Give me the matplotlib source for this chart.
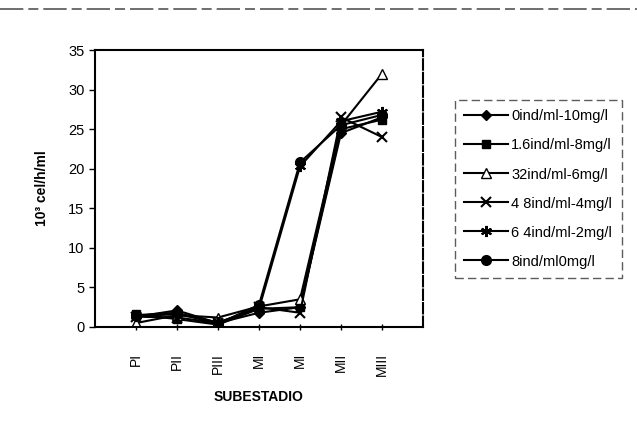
import matplotlib
matplotlib.use("Agg")
import matplotlib.pyplot as plt
from matplotlib.lines import Line2D

plt.rcParams["font.family"] = ["Liberation Sans", "DejaVu Sans"]

# stages on the x axis (MI appears twice in the original series)
stages = ["PI", "PII", "PIII", "MI", "MI", "MII", "MIII"]

s_0ind = [1.3, 2.1, 0.5, 1.8, 2.5, 24.5, 26.5]
s_16ind = [1.6, 1.0, 0.3, 2.3, 2.5, 25.0, 26.2]
s_32ind = [0.5, 1.5, 1.2, 2.6, 3.5, 25.5, 32.0]
s_48ind = [1.3, 1.2, 0.5, 2.5, 1.8, 26.5, 24.0]
s_64ind = [1.4, 1.6, 0.6, 2.3, 20.3, 26.0, 27.2]
s_8ind = [1.5, 1.8, 0.4, 2.8, 20.8, 25.5, 26.8]

labels = [
    "0ind/ml-10mg/l",
    "1.6ind/ml-8mg/l",
    "32ind/ml-6mg/l",
    "4 8ind/ml-4mg/l",
    "6 4ind/ml-2mg/l",
    "8ind/ml0mg/l",
]
series = [s_0ind, s_16ind, s_32ind, s_48ind, s_64ind, s_8ind]
markers = [
    dict(marker="D", ms=5, mfc="black"),
    dict(marker="s", ms=6, mfc="black"),
    dict(marker="^", ms=7, mfc="white"),
    dict(marker="x", ms=7, mew=1.5),
    dict(marker=(6, 2, 0), ms=8, mew=1.5),
    dict(marker="o", ms=7, mfc="black"),
]

fig = plt.figure(figsize=(6.37, 4.38), dpi=100)
ax = fig.add_axes([95 / 637, 1 - 327 / 438, 328 / 637, 277 / 438])

xs = list(range(1, len(stages) + 1))
for vals, lab, mk in zip(series, labels, markers):
    ax.plot(xs, vals, color="black", lw=1.5, mec="black", label=lab, **mk)

ax.set_xlim(0, 8)
ax.set_ylim(0, 35)
ax.set_yticks(range(0, 36, 5))
ax.set_xticks(xs)
ax.set_xticklabels(stages, rotation=90, fontsize=10)
ax.tick_params(axis="y", labelsize=10.5, length=4, width=1)
ax.tick_params(axis="x", direction="inout", length=5, width=1, pad=16)

for side in ["left", "bottom", "top", "right"]:
    ax.spines[side].set_linewidth(1.5)
ax.spines["right"].set_linestyle((0, (5, 1.5)))

ax.set_xlabel("SUBESTADIO", fontsize=10, fontweight="bold", labelpad=10)
ax.set_ylabel("10³ cel/h/ml", fontsize=10, fontweight="bold", labelpad=14)

leg = fig.legend(
    loc="upper left",
    bbox_to_anchor=(455 / 637, 1 - 100 / 438),
    bbox_transform=fig.transFigure,
    fontsize=10.5,
    handlelength=3.0,
    handletextpad=0.2,
    labelspacing=1.03,
    borderpad=0.65,
    borderaxespad=0,
    fancybox=False,
    frameon=True,
)
frame = leg.get_frame()
frame.set_edgecolor("#333333")
frame.set_linestyle((0, (6, 3)))
frame.set_linewidth(1)

# dashed rule along the top of the page
fig.add_artist(Line2D([0.0, 1.0], [1 - 9 / 438, 1 - 9 / 438],
                      transform=fig.transFigure, color="#555555",
                      lw=1.2, linestyle=(0, (14, 3, 6, 3))))

fig.savefig("out.png", dpi=100)
